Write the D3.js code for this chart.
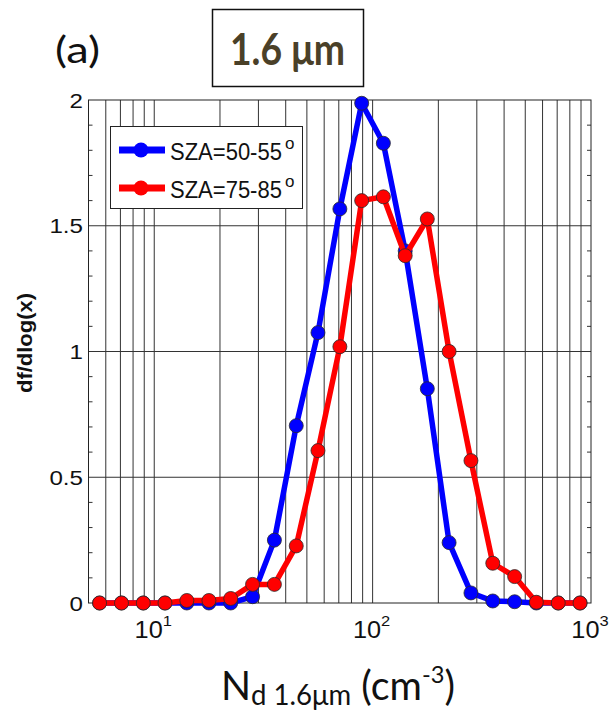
<!DOCTYPE html>
<html>
<head>
<meta charset="utf-8">
<script src="https://cdn.jsdelivr.net/npm/d3@7"></script>
<style>
  body { margin: 0; background: #fff; }
  svg { display: block; }
</style>
</head>
<body>
<div id="chart"></div>
<script>
// bin centres (cm-3) and df/dlog(x) for the two SZA ranges
var binCenters = [5.62, 7.08, 8.91, 11.2, 14.1, 17.8, 22.4, 28.2, 35.5, 44.7, 56.2, 70.8,
                  89.1, 112, 141, 178, 224, 282, 355, 447, 562, 708, 891];
var sza5055 = [0, 0, 0, 0, 0, 0, 0, 0.025, 0.25, 0.705, 1.075, 1.567,
               1.987, 1.828, 1.40, 0.852, 0.24, 0.04, 0.008, 0.005, 0, 0, 0];
var sza7585 = [0, 0, 0, 0, 0.01, 0.01, 0.018, 0.074, 0.074, 0.227, 0.606, 1.019,
               1.60, 1.615, 1.381, 1.527, 1.0, 0.566, 0.158, 0.105, 0.003, 0, 0];
var seriesNames = ["SZA=50-55", "SZA=75-85"];
var seriesColors = ["#0000ff", "#ff0000"];
var xTicks = [10, 100, 1000];
var yTicks = [0, 0.5, 1, 1.5, 2];
var yTickLabels = ["0", "0.5", "1", "1.5", "2"];

var W = 612, H = 713;
var pLeft = 88.5, pRight = 591, pTop = 100, pBottom = 603;

var svg = d3.select("#chart").append("svg")
   .attr("width", W)
   .attr("height", H);

var x = d3.scaleLog().domain([5, 1000]).range([pLeft, pRight]);
var y = d3.scaleLinear().domain([0, 2]).range([pBottom, pTop]);

// squeeze/stretch a text so its box starts at x0 and is w wide
function fitX(t, x0, w) {
   var b = t.node().getBBox();
   var s = w / b.width;
   t.attr("transform", "translate(" + x0 + ",0) scale(" + s + ",1) translate(" + (-b.x) + ",0)");
}

var gridColor = "#333";

// vertical grid at every log tick
svg.append("g").selectAll("line")
   .data(x.ticks().filter(function(d) { return d > 5 && d < 1000; }))
   .enter().append("line")
   .attr("x1", function(d) { return x(d); })
   .attr("x2", function(d) { return x(d); })
   .attr("y1", pTop).attr("y2", pBottom)
   .attr("stroke", gridColor).attr("stroke-width", 1);

// horizontal grid at major y ticks
svg.append("g").selectAll("line")
   .data(yTicks.filter(function(d) { return d > 0 && d < 2; }))
   .enter().append("line")
   .attr("x1", pLeft).attr("x2", pRight)
   .attr("y1", function(d) { return y(d); })
   .attr("y2", function(d) { return y(d); })
   .attr("stroke", gridColor).attr("stroke-width", 1);

// minor y ticks, inside, both sides
var minor = d3.range(1, 20).filter(function(i) { return i % 5 != 0; }).map(function(i) { return i / 10; });
var gm = svg.append("g");
gm.selectAll(".ml").data(minor).enter().append("line")
   .attr("x1", pLeft).attr("x2", pLeft + 4)
   .attr("y1", function(d) { return y(d); }).attr("y2", function(d) { return y(d); })
   .attr("stroke", "#333");
gm.selectAll(".mr").data(minor).enter().append("line")
   .attr("x1", pRight - 4).attr("x2", pRight)
   .attr("y1", function(d) { return y(d); }).attr("y2", function(d) { return y(d); })
   .attr("stroke", "#333");

// frame
svg.append("rect")
   .attr("x", pLeft).attr("y", pTop)
   .attr("width", pRight - pLeft).attr("height", pBottom - pTop)
   .attr("fill", "none").attr("stroke", "#222").attr("stroke-width", 1);

// y tick labels
svg.append("g").selectAll("text")
   .data(yTicks)
   .enter().append("text")
   .attr("transform", function(d) { return "translate(83," + (y(d) + 7.5) + ") scale(1.15,1)"; })
   .attr("text-anchor", "end")
   .attr("font-family", "Liberation Sans, Arial, sans-serif")
   .attr("font-size", "21px")
   .attr("fill", "#111")
   .text(function(d, i) { return yTickLabels[i]; });

// x tick labels 10^n
xTicks.forEach(function(d) {
   var t = svg.append("text")
      .attr("text-anchor", "middle")
      .attr("font-family", "Liberation Sans, Arial, sans-serif")
      .attr("font-size", "23px")
      .attr("fill", "#111")
      .attr("transform", "translate(" + (x(d) - 1) + ",638) scale(1.1,1)");
   t.append("tspan").text("10");
   t.append("tspan").attr("font-size", "15px").attr("dy", -12).text(Math.round(Math.log10(d)));
});

// series
var series = [sza5055, sza7585];
var line = d3.line()
   .x(function(d) { return x(d[0]); })
   .y(function(d) { return y(d[1]); });

series.forEach(function(vals, k) {
   var pts = binCenters.map(function(c, i) { return [c, vals[i]]; });
   var g = svg.append("g");
   g.append("path")
      .attr("d", line(pts))
      .attr("fill", "none")
      .attr("stroke", seriesColors[k])
      .attr("stroke-width", 5.5)
      .attr("stroke-linejoin", "round");
   g.selectAll("circle").data(pts).enter().append("circle")
      .attr("cx", function(d) { return x(d[0]); })
      .attr("cy", function(d) { return y(d[1]); })
      .attr("r", 7)
      .attr("fill", seriesColors[k])
      .attr("stroke", "#2a2a2a")
      .attr("stroke-width", 0.8);
});

// legend
var lg = svg.append("g");
lg.append("rect")
   .attr("x", 110.5).attr("y", 126.5)
   .attr("width", 192).attr("height", 82)
   .attr("fill", "#fff").attr("stroke", "#222").attr("stroke-width", 1);
var rowY = [150, 188];
seriesNames.forEach(function(name, k) {
   lg.append("line")
      .attr("x1", 119).attr("x2", 165)
      .attr("y1", rowY[k]).attr("y2", rowY[k])
      .attr("stroke", seriesColors[k]).attr("stroke-width", 7);
   lg.append("circle")
      .attr("cx", 141).attr("cy", rowY[k]).attr("r", 7.5)
      .attr("fill", seriesColors[k]);
   var t = lg.append("text")
      .attr("y", rowY[k] + 10)
      .attr("font-family", "Liberation Sans, Arial, sans-serif")
      .attr("font-size", "24px")
      .attr("fill", "#111")
      .text(name);
   fitX(t, 170, 112);
   lg.append("text")
      .attr("x", 285).attr("y", rowY[k] - 1)
      .attr("font-family", "Liberation Sans, Arial, sans-serif")
      .attr("font-size", "17px")
      .attr("fill", "#111")
      .text("o");
});

// y axis label
var yl = svg.append("text")
   .attr("text-anchor", "middle")
   .attr("font-family", "Liberation Sans, Arial, sans-serif")
   .attr("font-size", "21px")
   .attr("font-weight", "bold")
   .attr("fill", "#111")
   .text("df/dlog(x)");
var ylw = yl.node().getBBox().width;
yl.attr("transform", "translate(32,343) rotate(-90) scale(" + (100 / ylw) + ",1)");

// x axis label
var xl = svg.append("text")
   .attr("y", 700)
   .attr("font-family", "Lato, Open Sans, sans-serif")
   .attr("font-size", "40px")
   .attr("fill", "#111");
xl.append("tspan").text("N");
xl.append("tspan").attr("font-size", "28px").attr("dy", 5).text("d 1.6\u03bcm");
xl.append("tspan").attr("dy", -5).text(" (cm");
xl.append("tspan").attr("font-size", "24px").attr("dy", -17).text("-3");
xl.append("tspan").attr("dy", 17).text(")");
fitX(xl, 221, 234);

// panel letter
var pa = svg.append("text")
   .attr("y", 63)
   .attr("font-family", "Lato, Open Sans, sans-serif")
   .attr("font-size", "37px")
   .attr("fill", "#111")
   .text("(a)");
fitX(pa, 55, 45);

// wavelength box
svg.append("rect")
   .attr("x", 212.5).attr("y", 9.5)
   .attr("width", 151).attr("height", 77)
   .attr("fill", "#fff").attr("stroke", "#111").attr("stroke-width", 1.5);
var wl = svg.append("text")
   .attr("y", 65)
   .attr("font-family", "Lato, Open Sans, sans-serif")
   .attr("font-size", "44px")
   .attr("font-weight", "bold")
   .attr("fill", "#4a4028")
   .text("1.6 \u03bcm");
fitX(wl, 230, 115);
</script>
</body>
</html>
